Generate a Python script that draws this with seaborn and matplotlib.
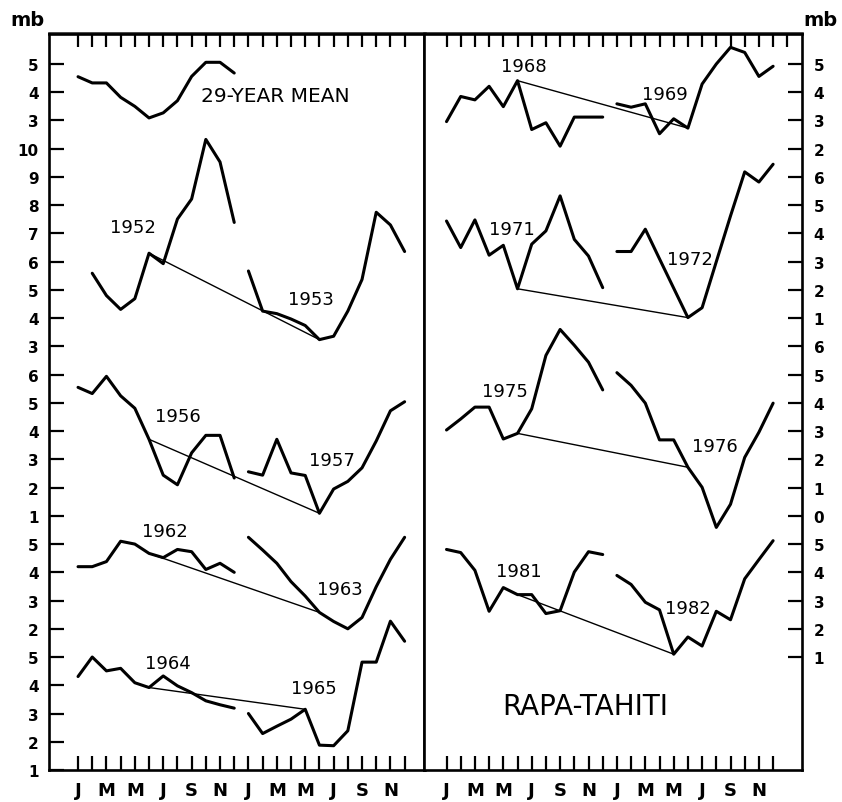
import numpy as np
import pandas as pd
import matplotlib
matplotlib.use("Agg")
import matplotlib.pyplot as plt
import seaborn as sns

# ---------------- data (mb) ----------------
MONTH_LABELS = ["J", "M", "M", "J", "S", "N", "J", "M", "M", "J", "S", "N"]

mean_29yr = [4.55, 4.33, 4.33, 3.82, 3.50, 3.09, 3.27, 3.70, 4.56, 5.06, 5.06, 4.68]

y1952 = [None, 5.59, 4.80, 4.31, 4.69, 6.30, 5.93, 7.51, 8.22, 10.33, 9.53, 7.39]
y1953 = [5.67, 4.25, 4.16, 3.97, 3.74, 3.24, 3.36, 4.25, 5.37, 7.75, 7.30, 6.36]
y1956 = [5.55, 5.33, 5.94, 5.25, 4.81, 3.71, 2.44, 2.10, 3.23, 3.85, 3.85, 2.34]
y1957 = [2.56, 2.44, 3.71, 2.52, 2.43, 1.09, 1.95, 2.22, 2.70, 3.65, 4.72, 5.04]
y1962 = [4.20, 4.20, 4.38, 5.10, 5.00, 4.67, 4.52, 4.81, 4.73, 4.10, 4.32, 4.00]
y1963 = [5.24, 4.79, 4.32, 3.67, 3.16, 2.58, 2.26, 2.00, 2.40, 3.49, 4.46, 5.24]
y1964 = [4.31, 5.00, 4.51, 4.60, 4.09, 3.92, 4.33, 3.98, 3.74, 3.45, 3.31, 3.19]
y1965 = [3.00, 2.29, 2.55, 2.80, 3.15, 1.88, 1.86, 2.39, 4.82, 4.82, 6.27, 5.56]

y1968 = [2.96, 3.85, 3.73, 4.21, 3.49, 4.41, 2.68, 2.92, 2.09, 3.12, 3.12, 3.12]
y1969 = [3.59, 3.47, 3.59, 2.53, 3.06, 2.73, 4.29, 5.00, 5.59, 5.41, 4.56, 4.92]
y1971 = [4.44, 3.50, 4.48, 3.23, 3.58, 2.04, 3.62, 4.09, 5.33, 3.79, 3.20, 2.08]
y1972 = [3.36, 3.36, 4.15, 3.10, 2.06, 1.02, 1.37, 3.00, 4.62, 6.18, 5.82, 6.45]
y1975 = [3.04, 3.43, 3.85, 3.85, 2.72, 2.92, 3.79, 5.68, 6.60, 6.04, 5.44, 4.46]
y1976 = [5.07, 4.62, 3.99, 2.69, 2.69, 1.72, 1.01, -0.41, 0.41, 2.07, 2.96, 3.99]
y1981 = [4.81, 4.70, 4.07, 2.62, 3.46, 3.21, 3.21, 2.54, 2.64, 4.01, 4.73, 4.63]
y1982 = [3.89, 3.57, 2.94, 2.67, 1.10, 1.71, 1.39, 2.62, 2.32, 3.77, 4.45, 5.12]

LEFT_YEARS = [("1952", y1952, "1953", y1953), ("1956", y1956, "1957", y1957),
              ("1962", y1962, "1963", y1963), ("1964", y1964, "1965", y1965)]
RIGHT_YEARS = [("1968", y1968, "1969", y1969), ("1971", y1971, "1972", y1972),
               ("1975", y1975, "1976", y1976), ("1981", y1981, "1982", y1982)]
# trend line: from month index in first year to month index in second year
LEFT_TREND_FROM = [5, 5, 5, 5]
LEFT_TREND_TO = [5, 5, 5, 4]
RIGHT_TREND_FROM = [5, 5, 5, 5]
RIGHT_TREND_TO = [5, 5, 5, 4]

LEFT_TICK_LABELS = ["1", "2", "3", "4", "5", "2", "3", "4", "5", "1", "2", "3", "4", "5", "6",
                    "3", "4", "5", "6", "7", "8", "9", "10", "3", "4", "5"]
RIGHT_TICK_LABELS = ["1", "2", "3", "4", "5", "0", "1", "2", "3", "4", "5", "6",
                     "1", "2", "3", "4", "5", "6", "2", "3", "4", "5"]

# ---------------- layout (stacking offsets, label spots) ----------------
MEAN_OFFSET = 20
LEFT_OFFSETS = [12, 8, 3, -1]
RIGHT_OFFSETS = [20, 15, 9, 3]
LEFT_LABEL_POS = {"1952": (3.9, 19.23), "1953": (16.4, 16.68), "1956": (7.0, 12.54),
                  "1957": (17.85, 10.98), "1962": (6.1, 8.46), "1963": (18.45, 6.41),
                  "1964": (6.3, 3.79), "1965": (16.6, 2.90)}
RIGHT_LABEL_POS = {"1968": (5.46, 24.93), "1969": (15.35, 23.94), "1971": (4.61, 19.16),
                   "1972": (17.15, 18.09), "1975": (4.12, 13.42), "1976": (18.9, 11.47),
                   "1981": (5.11, 7.05), "1982": (17.03, 5.74)}


def build(pairs, offsets, tfrom, tto):
    rows, trows = [], []
    for (n1, v1, n2, v2), off, a, b in zip(pairs, offsets, tfrom, tto):
        for name, vals, base in ((n1, v1, 0), (n2, v2, 12)):
            for i, v in enumerate(vals):
                if v is not None:
                    rows.append(dict(series=name, month=base + i, value=v, u=v + off))
        trows.append(dict(series="t" + n1, month=a, u=v1[a] + off))
        trows.append(dict(series="t" + n1, month=12 + b, u=v2[b] + off))
    return pd.DataFrame(rows), pd.DataFrame(trows)


left_df, left_tr = build(LEFT_YEARS, LEFT_OFFSETS, LEFT_TREND_FROM, LEFT_TREND_TO)
mean_df = pd.DataFrame(dict(series="mean", month=range(12), value=mean_29yr,
                            u=np.array(mean_29yr) + MEAN_OFFSET))
left_df = pd.concat([mean_df, left_df], ignore_index=True)
right_df, right_tr = build(RIGHT_YEARS, RIGHT_OFFSETS, RIGHT_TREND_FROM, RIGHT_TREND_TO)

# ---------------- figure ----------------
sns.set_theme(style="white")
plt.rcParams["font.family"] = ["DejaVu Sans"]
plt.rcParams["text.color"] = "black"
plt.rcParams["xtick.color"] = "black"
plt.rcParams["ytick.color"] = "black"
plt.rcParams["axes.labelcolor"] = "black"

W, H = 842, 803
fig = plt.figure(figsize=(W / 100, H / 100), dpi=100)
bottom_px, top_px = 771, 34.5
ylim = (0, (bottom_px - top_px) / 28.24)
ax1 = fig.add_axes([48.5 / W, (H - bottom_px) / H, (424.5 - 48.5) / W, (bottom_px - top_px) / H])
ax2 = fig.add_axes([424.5 / W, (H - bottom_px) / H, (802.5 - 424.5) / W, (bottom_px - top_px) / H])
ax1.set_xlim(-2.08, 24.40)
ax2.set_xlim(-1.55, 25.07)

THICK, THIN = 2.2, 1.0
for ax, df, tr in ((ax1, left_df, left_tr), (ax2, right_df, right_tr)):
    sns.lineplot(data=df, x="month", y="u", units="series", estimator=None,
                 color="black", linewidth=THICK, ax=ax, legend=False)
    sns.lineplot(data=tr, x="month", y="u", units="series", estimator=None,
                 color="black", linewidth=THIN, ax=ax, legend=False)
    ax.set_ylim(*ylim)
    ax.set_xlabel("")
    ax.set_ylabel("")
    for s in ax.spines.values():
        s.set_visible(True)
        s.set_color("black")
        s.set_linewidth(1.9)
    ax.set_xticks(range(24))
    ax.set_xticklabels([MONTH_LABELS[i // 2] if i % 2 == 0 else "" for i in range(24)],
                       fontsize=13, fontweight="bold", color="black")
    ax.tick_params(axis="x", bottom=True, top=False, direction="in", length=10,
                   width=1.6, pad=8, color="black", labelcolor="black")
    ax.grid(False)

# top month ticks
for ax, n in ((ax1, 24), (ax2, 25)):
    sec = ax.secondary_xaxis("top")
    sec.set_xticks(range(n))
    sec.set_xticklabels([])
    sec.tick_params(direction="in", length=10, width=1.6, color="black")
    sec.spines["top"].set_linewidth(1.9)

ax1.set_yticks(range(26))
ax1.set_yticklabels(LEFT_TICK_LABELS, fontsize=11, fontweight="bold", color="black")
ax1.tick_params(axis="y", left=True, right=False, direction="in", length=10.5,
                width=1.6, pad=7, color="black", labelcolor="black")

ax2.set_yticks(range(4, 26))
ax2.set_yticklabels(RIGHT_TICK_LABELS, fontsize=11, fontweight="bold", color="black")
ax2.yaxis.tick_right()
ax2.tick_params(axis="y", left=False, right=True, labelleft=False, labelright=True,
                direction="in", length=10, width=1.6, pad=8, color="black", labelcolor="black")

# labels
ax1.text(13.9, 23.87, "29-YEAR MEAN", ha="center", va="center", fontsize=14.5, color="black")
for name, (mx, uy) in LEFT_LABEL_POS.items():
    ax1.text(mx, uy, name, ha="center", va="center", fontsize=13, color="black")
for name, (mx, uy) in RIGHT_LABEL_POS.items():
    ax2.text(mx, uy, name, ha="center", va="center", fontsize=13, color="black")
ax2.text(9.75, 2.27, "RAPA-TAHITI", ha="center", va="center", fontsize=20, color="black")

fig.text(27.5 / W, 1 - 21 / H, "mb", ha="center", va="center", fontsize=14,
         fontweight="bold", color="black")
fig.text(820.5 / W, 1 - 21 / H, "mb", ha="center", va="center", fontsize=14,
         fontweight="bold", color="black")

fig.savefig("out.png", dpi=100, facecolor="white")
